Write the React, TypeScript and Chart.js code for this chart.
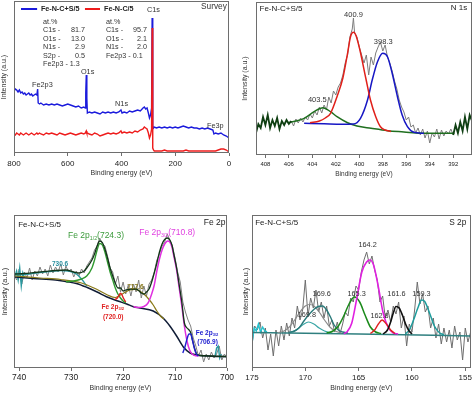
import React, { useEffect, useRef } from "react";
import { Chart, registerables } from "chart.js";

Chart.register(...registerables);

type Pair = [number, number];
const FONT = '"Liberation Sans", Arial, Helvetica, sans-serif';

// ---------------- Survey ----------------
const surveyEnergy = [800,795,790,785,780,775,770,765,760,755,750,745,740,735,730,725,720,715,
  712,710,705,700,
  690,680,670,660,650,640,630,620,610,600,590,580,570,560,550,540,
  535,533,531,529,527,
  520,510,500,490,480,470,460,450,440,430,420,410,
  402,398,
  390,380,370,360,350,340,330,320,
  315,310,305,300,296,292,288,286,284.5,283,281,278,
  270,260,250,240,230,220,210,200,190,180,170,160,150,140,130,120,110,100,90,80,70,60,
  56,
  50,40,30,20,10,0];
const surveyBlue = [62,64,63,61,63,60,61,59,60,58,59,60,58,59,57,58,59,58,
  64,50,49,50,
  48,49,48,49,48,49,48,47,48,49,48,47,46,47,45,46,
  45,60,78,55,40,
  41,40,41,40,39,41,40,41,40,41,40,41,
  43,40,
  41,40,42,41,42,43,42,45,
  46,44,45,40,35,38,45,135,80,27,25,26,
  25,26,25,26,25,26,25,26,25,26,27,26,25,26,25,25,24,25,24,25,24,23,
  19,
  20,19,20,18,17,15];
const surveyRed = [19,18,20,19,18,20,19,18,19,20,19,18,19,20,19,18,19,20,
  19,19,20,19,
  18,20,19,20,19,18,20,19,18,19,20,19,18,19,20,19,
  20,21,22,20,20,
  19,18,20,19,17,18,19,20,19,20,19,20,
  22,20,
  21,20,21,20,22,21,23,24,
  26,25,24,20,15,18,24,125,60,5,3,2,
  2,2,2,3,2,2,2,2,2,2,2,3,2,2,2,2,2,2,2,2,2,2,
  2,
  2,3,4,4,3,1];
const surveyElementsA = ["C1s -", "O1s -", "N1s -", "S2p -"];
const surveyAtomicA = ["81.7", "13.0", "2.9", "0.5"];
const surveyFeA = "Fe2p3 - 1.3";
const surveyElementsB = ["C1s -", "O1s -", "N1s -"];
const surveyAtomicB = ["95.7", "2.1", "2.0"];
const surveyFeB = "Fe2p3 - 0.1";

// ---------------- N 1s ----------------
const n1sEdgeLeft: Pair[] = [[408.8,22],[408.6,31],[408.4,27],[408.2,38],[408.0,30],[407.8,40],[407.6,27],[407.4,35],[407.2,29],[407.0,37],[406.8,26],[406.6,34],[406.4,30],[406.2,35],[406.0,31],[405.8,34]];
const n1sRaw: Pair[] = [[405.8,34],[405.6,29],[405.4,36],[405.2,32],[405.0,37],[404.8,33],[404.6,38],[404.4,35],[404.2,41],[404.0,37],[403.8,44],[403.6,40],[403.4,48],[403.2,42],[403.0,50],[402.8,45],[402.6,58],[402.4,52],[402.2,64],[402.0,60],[401.8,68],[401.6,72],[401.4,80],[401.2,92],[401.0,100],[400.8,118],[400.6,126],[400.5,137],[400.4,122],[400.2,118],[400.0,108],[399.8,100],[399.6,92],[399.4,100],[399.2,80],[399.0,98],[398.8,90],[398.6,102],[398.4,108],[398.2,113],[398.0,104],[397.8,110],[397.6,98],[397.4,92],[397.2,84],[397.0,74],[396.8,66],[396.6,55],[396.4,48],[396.2,43],[396.0,35],[395.8,38],[395.6,28],[395.4,30],[395.2,22],[395.0,27],[394.8,20],[394.6,26],[394.4,17],[394.2,24],[394.0,12],[393.8,22],[393.6,18],[393.4,26],[393.2,16],[393.0,25],[392.8,19],[392.6,24],[392.4,21],[392.2,26],[392.0,20]];
const n1sEdgeRight: Pair[] = [[392.0,20],[391.8,30],[391.6,22],[391.4,33],[391.2,24],[391.0,38],[390.8,26],[390.6,40],[390.4,34]];
const n1sRed: Pair[] = [[404.2,32.3],[403.4,34],[402.9,37],[402.45,41.7],[401.9,58.3],[401.4,77],[401.0,101.7],[400.75,118.3],[400.5,122.7],[400.3,120],[399.95,105],[399.45,77],[399.05,55],[398.6,38.3],[398.2,28.3],[397.8,25],[397.3,23.5]];
const n1sBlue: Pair[] = [[404.7,31.7],[403.0,31.2],[401.5,30.8],[400.5,31],[399.9,36.7],[399.3,55],[398.9,75],[398.45,93.3],[398.0,101.7],[397.6,98.3],[397.2,81.7],[396.75,58.3],[396.35,40],[395.9,28.3],[395.35,22.7],[394.5,21.7]];
const n1sGreen: Pair[] = [[406.1,32.3],[405.4,34],[404.7,36.7],[403.85,43.3],[403.1,47.3],[402.45,43.3],[401.9,38.3],[401.0,32.3],[400.2,29],[399.0,26.7],[397.6,24.3],[396.2,23],[394.8,21.7],[391.9,21.7]];

// ---------------- Fe 2p ----------------
const fe2pRaw: Pair[] = [[741,94],[740.5,88],[740,99],[739.5,84],[739,96],[738.5,90],[738,100],[737.5,88],[737,97],[736.5,92],[736,101],[735.5,94],[735,99],[734.5,92],[734,103],[733.5,95],[733,101],[732.5,96],[732,104],[731.5,93],[731,102],[730.5,96],[730,99],[729.5,91],[729,97],[728.5,92],[728,99],[727.5,95],[727,102],[726.5,106],[726,110],[725.5,118],[725,122],[724.5,130],[724,124],[723.5,122],[723,112],[722.5,100],[722,96],[721.5,84],[721,92],[720.5,76],[720,86],[719.5,74],[719,83],[718.5,72],[718,84],[717.5,76],[717,88],[716.5,70],[716,82],[715.5,72],[715,84],[714.5,88],[714,96],[713.5,108],[713,114],[712.5,122],[712,126],[711.5,134],[711,128],[710.5,122],[710,110],[709.5,96],[709,86],[708.5,66],[708,56],[707.5,48],[707,42],[706.5,30],[706,22],[705.5,12],[705,18],[704.5,6],[704,14],[703.5,8],[703,16],[702.5,10],[702,14],[701.5,22],[701,8],[700.5,14],[700,10]];
const fe2pEdgeLeft: Pair[] = [[740.8,92],[740.5,97],[740.2,88],[739.9,100],[739.6,82],[739.3,95],[739.0,90]];
const fe2pEdgeRight: Pair[] = [[702.3,12],[702.0,20],[701.7,22],[701.4,10],[701.1,14]];
const fe2pBackground: Pair[] = [[740.8,91],[737.3,89.5],[733,88],[730.9,86.3],[729,84.5],[727,80.7],[725,76],[723.2,71.3],[721,67],[719.3,64],[718,61.3],[716.8,60],[714.2,57],[712.3,50],[711,42],[709.7,32],[708.4,21],[707.1,15],[705.2,12.5],[703,11.8],[700,11.3]];
const fe2pEnvelope: Pair[] = [[740.8,94],[739,94.5],[737,95.5],[735,96.5],[733,97.5],[731,98],[729.5,96],[728.5,95],[727.5,97],[727,100],[726,108],[725.5,114],[725,122],[724.5,127],[724,125.5],[723.5,119],[723,110],[722.5,100],[722,92],[721.5,85],[721,80],[720.5,80],[720,77],[719.5,78],[719,78.5],[718.5,79],[718,79],[717.5,79],[717,77.5],[716.5,75],[716,74],[715.5,76],[715,79],[714.5,86],[714,95],[713.5,105],[713,116],[712.5,124],[712,128.5],[711.5,130],[711,128],[710.6,123],[710.2,113],[709.7,100],[709.2,83],[708.7,66],[708.2,45],[707.7,40],[707.3,38],[707,35.5],[706.6,27],[706.2,19],[705.8,13.5],[705.2,12.5],[703,12],[700,11.5]];
const fe2pTeal: Pair[] = [[740.8,93],[738,94],[736,95.5],[734,96.5],[732,97.3],[730.5,97],[729,94],[728,89],[727,82]];
const fe2pGreen: Pair[] = [[731,86.3],[729.5,87],[728,89],[727,92],[726,100],[725.5,108],[725,118],[724.5,124.5],[724,123],[723.5,116],[723,106],[722.5,96],[722,88],[721.5,80],[721,74],[720.5,70],[720,67],[719.5,65]];
const fe2pRed: Pair[] = [[721.6,68.5],[721.1,70],[720.8,72.5],[720.5,74.7],[720.2,73],[719.9,69.5],[719.5,66]];
const fe2pOlive: Pair[] = [[740.8,92],[736,90],[732,88.5],[728,85],[725,78.5],[723,73],[721.5,70.5],[720.5,73],[719.5,76],[718.7,78],[717.8,78.5],[717,77.5],[716,74],[715,68.5],[714.2,63],[713.5,57],[712.8,52],[712.2,49]];
const fe2pMagenta: Pair[] = [[718,61.5],[717,60.5],[716,61.5],[715.2,65],[714.5,74],[714,83],[713.5,97],[713,109],[712.5,118],[712,124],[711.4,127],[711,126],[710.6,121],[710.2,111],[709.7,98],[709.2,80],[708.7,62],[708.2,42],[707.7,27],[707.2,18],[706.6,13.5],[706,12.2],[705.5,12]];
const fe2pBlue: Pair[] = [[708.5,15],[708.1,21],[707.7,29],[707.3,34],[707.0,34],[706.7,29],[706.3,20],[705.9,14],[705.5,12]];

// ---------------- S 2p ----------------
const s2pRaw: Pair[] = [[175,24],[174.75,42],[174.5,38],[174.25,46],[174,30],[173.75,40],[173.5,18],[173.25,34],[173,12],[172.75,38],[172.5,22],[172.25,42],[172,28],[171.75,45],[171.5,32],[171.25,50],[171,40],[170.75,62],[170.5,48],[170.25,58],[170,88],[169.75,52],[169.5,70],[169.25,60],[169,78],[168.75,56],[168.5,66],[168.25,50],[168,62],[167.75,42],[167.5,48],[167.25,36],[167,46],[166.75,34],[166.5,44],[166.25,56],[166,52],[165.75,70],[165.5,66],[165.25,82],[165,78],[164.75,96],[164.5,108],[164.25,116],[164,104],[163.75,112],[163.5,98],[163.25,88],[163,66],[162.75,72],[162.5,50],[162.25,58],[162,46],[161.75,62],[161.5,54],[161.25,66],[161,40],[160.75,52],[160.5,22],[160.25,44],[160,36],[159.75,58],[159.5,86],[159.25,64],[159,74],[158.75,56],[158.5,62],[158.25,40],[158,50],[157.75,30],[157.5,44],[157.25,24],[157,40],[156.75,26],[156.5,38],[156.25,20],[156,42],[155.75,28],[155.5,36],[155.25,8],[155,40],[154.75,26],[154.5,36]];
const s2pEdge: Pair[] = [[175,24],[174.8,40],[174.6,37],[174.4,44],[174.2,36],[174.0,41],[173.8,37],[173.6,36]];
const s2pBaseline: Pair[] = [[175,35.5],[165,34],[154.5,32]];
const s2pGray: Pair[] = [[172.6,35.3],[172,37],[171.5,41],[171,48],[170.5,56],[170,62],[169.6,63.5],[169.2,62],[168.7,56],[168.2,48],[167.7,41],[167.2,37],[166.6,35]];
const s2pTeal: Pair[] = [[171.5,35.8],[171.1,36.5],[170.6,40],[170.2,46],[169.7,53],[169.2,58.5],[168.8,61.5],[168.4,62],[168.0,58],[167.6,50],[167.3,43],[166.9,38],[166.5,36],[166,35]];
const s2pSmall: Pair[] = [[171.4,35.5],[170.8,38.5],[170.2,43.5],[169.7,46],[169.2,44],[168.7,40],[168.2,37],[167.6,35.2]];
const s2pGreen: Pair[] = [[168,35],[167.4,37],[166.9,42],[166.4,52],[165.9,64],[165.4,71],[164.9,66],[164.4,53],[163.9,41],[163.4,36],[162.9,34.5]];
const s2pMagenta: Pair[] = [[166.4,34.5],[166.1,36],[165.65,44.7],[165.2,68],[164.7,96],[164.25,106],[163.95,108],[163.6,103],[163.15,81],[162.7,55],[162.2,40],[161.75,35],[161.3,34]];
const s2pRed: Pair[] = [[163.9,34.5],[163.5,38],[163.15,44],[162.8,48],[162.4,44],[162.0,38],[161.6,34.5]];
const s2pBlack: Pair[] = [[162.7,34],[162.3,38],[162.0,46],[161.75,55],[161.5,61.5],[161.2,60],[160.9,53],[160.6,44],[160.3,37.5],[160.0,34]];
const s2pCyan: Pair[] = [[160.6,34],[160.2,39],[159.85,48],[159.45,60],[159.1,68],[158.8,66.5],[158.35,55],[157.9,42],[157.4,35],[157,33.5]];

// ---------------- helpers ----------------
type Part = { t: string; sub?: boolean };
type Note = { parts: Part[]; x: number; y: number; color: string; size: number; bold?: boolean; align: "left" | "center" | "right" };
type Key = { x1: number; x2: number; y: number; color: string };

const T = (t: string): Part[] => [{ t }];
const note = (t: string | Part[], x: number, y: number, size: number, align: Note["align"] = "left", color = "#333", bold = false): Note =>
  ({ parts: typeof t === "string" ? T(t) : t, x, y, size, align, color, bold });

function line(pairs: Pair[], color: string, width: number, smooth = true) {
  return {
    data: pairs.map(([x, y]) => ({ x, y })),
    borderColor: color,
    borderWidth: width,
    pointRadius: 0,
    fill: false,
    tension: 0,
    cubicInterpolationMode: smooth ? "monotone" : "default",
  };
}

function notesPlugin(notes: Note[], keys: Key[]) {
  return {
    id: "notes",
    afterDraw(chart: any) {
      const { ctx } = chart;
      const xs = chart.scales.x;
      const ys = chart.scales.y;
      ctx.save();
      for (const k of keys) {
        const y = ys.getPixelForValue(k.y);
        ctx.strokeStyle = k.color;
        ctx.lineWidth = 2;
        ctx.beginPath();
        ctx.moveTo(xs.getPixelForValue(k.x1), y);
        ctx.lineTo(xs.getPixelForValue(k.x2), y);
        ctx.stroke();
      }
      for (const n of notes) {
        const w = n.bold ? "bold " : "";
        const fontOf = (p: Part) => `${w}${p.sub ? n.size * 0.62 : n.size}px ${FONT}`;
        const widths = n.parts.map((p) => {
          ctx.font = fontOf(p);
          return ctx.measureText(p.t).width;
        });
        const total = widths.reduce((a, b) => a + b, 0);
        let x = xs.getPixelForValue(n.x);
        if (n.align === "center") x -= total / 2;
        else if (n.align === "right") x -= total;
        const y = ys.getPixelForValue(n.y);
        ctx.fillStyle = n.color;
        ctx.textBaseline = "middle";
        ctx.textAlign = "left";
        n.parts.forEach((p, i) => {
          ctx.font = fontOf(p);
          ctx.fillText(p.t, x, p.sub ? y + n.size * 0.3 : y);
          x += widths[i];
        });
      }
      ctx.restore();
    },
  };
}

const framePlugin = {
  id: "frame",
  afterDatasetsDraw(chart: any) {
    const { ctx, chartArea: a } = chart;
    ctx.save();
    ctx.strokeStyle = "#6e6e6e";
    ctx.lineWidth = 1;
    ctx.strokeRect(Math.round(a.left) + 0.5, Math.round(a.top) + 0.5, Math.round(a.right - a.left) - 1, Math.round(a.bottom - a.top) - 1);
    ctx.restore();
  },
};

type PanelCfg = {
  datasets: any[];
  xMin: number; xMax: number; step: number; yMax: number;
  padding: { left: number; top: number; right: number; bottom: number };
  yWidth: number; xHeight: number;
  tickSize: number; tickPad: number; titleSize: number; yTitleSize: number; yTitlePad: number;
  notes: Note[]; keys: Key[];
};

function Panel({ cfg, left, top, width, height }: { cfg: PanelCfg; left: number; top: number; width: number; height: number }) {
  const ref = useRef<HTMLCanvasElement | null>(null);
  useEffect(() => {
    if (!ref.current) return;
    const chart = new Chart(ref.current, {
      type: "line",
      data: { datasets: cfg.datasets },
      options: {
        responsive: false,
        maintainAspectRatio: false,
        animation: false,
        devicePixelRatio: 1,
        events: [],
        layout: { padding: cfg.padding },
        plugins: { legend: { display: false }, tooltip: { enabled: false } },
        scales: {
          x: {
            type: "linear",
            reverse: true,
            min: cfg.xMin,
            max: cfg.xMax,
            ticks: { stepSize: cfg.step, includeBounds: false, autoSkip: false, maxRotation: 0, padding: cfg.tickPad, color: "#222", font: { family: FONT, size: cfg.tickSize } },
            grid: { drawOnChartArea: false, drawTicks: true, tickLength: 3, color: "#6e6e6e" },
            border: { display: false },
            title: { display: true, text: "Binding energy (eV)", color: "#333", padding: { top: 0, bottom: 0 }, font: { family: FONT, size: cfg.titleSize } },
            afterFit: (s: any) => { s.height = cfg.xHeight; },
          },
          y: {
            type: "linear",
            min: 0,
            max: cfg.yMax,
            ticks: { display: false },
            grid: { display: false },
            border: { display: false },
            title: { display: true, text: "Intensity (a.u.)", color: "#333", padding: { top: cfg.yTitlePad, bottom: 0 }, font: { family: FONT, size: cfg.yTitleSize } },
            afterFit: (s: any) => { s.width = cfg.yWidth; },
          },
        },
      } as any,
      plugins: [framePlugin, notesPlugin(cfg.notes, cfg.keys)],
    });
    return () => chart.destroy();
  }, [cfg]);
  return <canvas ref={ref} width={width} height={height} style={{ position: "absolute", left, top, width, height, display: "block" }} />;
}

// ---------------- panel configs ----------------
const surveyRows = [131, 122.5, 114, 105.5, 97, 88.5];
const surveyNotes: Note[] = [
  note("Fe-N-C+S/5", 700, 144, 7.2, "left", "#222", true),
  note("Fe-N-C/5", 465, 144, 7.2, "left", "#222", true),
  note("C1s", 305, 143, 7.3),
  note("Survey", 8, 146, 8.3, "right"),
  note("Fe2p3", 733, 68, 7.3),
  note("O1s", 551, 81, 7.3),
  note("N1s", 424, 49, 7.3),
  note("Fe3p", 82, 27, 7.3),
  note("at.%", 692, surveyRows[0], 7.2),
  note("at.%", 458, surveyRows[0], 7.2),
  ...surveyElementsA.map((e, i) => note(e, 692, surveyRows[i + 1], 7.2)),
  ...surveyAtomicA.map((v, i) => note(v, 536, surveyRows[i + 1], 7.2, "right")),
  note(surveyFeA, 692, surveyRows[5], 7.2),
  ...surveyElementsB.map((e, i) => note(e, 458, surveyRows[i + 1], 7.2)),
  ...surveyAtomicB.map((v, i) => note(v, 305, surveyRows[i + 1], 7.2, "right")),
  note(surveyFeB, 458, surveyRows[4], 7.2),
];
const surveyKeys: Key[] = [
  { x1: 774, x2: 714, y: 144, color: "#1b1bdc" },
  { x1: 536, x2: 480, y: 144, color: "#ee1c1c" },
];

const surveyCfg: PanelCfg = {
  datasets: [
    line(surveyEnergy.map((e, i) => [e, surveyRed[i]] as Pair), "#ee1c1c", 1.4, false),
    line(surveyEnergy.map((e, i) => [e, surveyBlue[i]] as Pair), "#1b1bdc", 1.4, false),
  ],
  xMin: 0, xMax: 800, step: 200, yMax: 152,
  padding: { left: 0, top: 1, right: 8, bottom: 0 },
  yWidth: 14, xHeight: 24, tickSize: 8, tickPad: 3, titleSize: 7, yTitleSize: 7, yTitlePad: 0,
  notes: surveyNotes, keys: surveyKeys,
};

const n1sCfg: PanelCfg = {
  datasets: [
    line(n1sEdgeLeft, "#0f3f12", 1.8, false),
    line(n1sEdgeRight, "#0f3f12", 1.8, false),
    line(n1sRed, "#e0201a", 1.5),
    line(n1sBlue, "#1717c4", 1.5),
    line(n1sGreen, "#1f6f1f", 1.5),
    line(n1sRaw, "#7d7d7d", 1, false),
  ],
  xMin: 390.4, xMax: 408.8, step: 2, yMax: 153,
  padding: { left: 0, top: 2, right: 2, bottom: 0 },
  yWidth: 19, xHeight: 23, tickSize: 6, tickPad: 3, titleSize: 6.5, yTitleSize: 7, yTitlePad: 4,
  notes: [
    note("Fe-N-C+S/5", 408.5, 146, 8, "left", "#222"),
    note("N 1s", 390.8, 147, 8, "right", "#222"),
    note("400.9", 400.5, 140, 7.5, "center"),
    note("398.3", 397.96, 113, 7.5, "center"),
    note("403.5", 403.58, 55, 7.5, "center"),
  ],
  keys: [],
};

const fe2pCfg: PanelCfg = {
  datasets: [
    line(fe2pRed, "#e02020", 1.4),
    line(fe2pBlue, "#2020d0", 1.4),
    line(fe2pEnvelope, "#123418", 1.3),
    line(fe2pMagenta, "#e030e0", 1.5),
    line(fe2pGreen, "#2f9a2f", 1.4),
    line(fe2pOlive, "#8a7a18", 1.2),
    line(fe2pTeal, "#2a9aa0", 1.3),
    line(fe2pBackground, "#101c36", 1.5),
    line(fe2pEdgeLeft, "#2a9aa0", 1.4, false),
    line(fe2pEdgeRight, "#2a9aa0", 1.4, false),
    line(fe2pRaw, "#808080", 1, false),
  ],
  xMin: 700, xMax: 741, step: 10, yMax: 153,
  padding: { left: 0, top: 15, right: 10, bottom: 0 },
  yWidth: 14, xHeight: 24, tickSize: 8.5, tickPad: 2, titleSize: 7, yTitleSize: 7.5, yTitlePad: 0,
  notes: [
    note("Fe-N-C+S/5", 740.2, 143, 8, "left", "#222"),
    note("Fe 2p", 700.3, 145, 8.5, "right", "#222"),
    note([{ t: "Fe 2p" }, { t: "1/2", sub: true }, { t: "(724.3)" }], 730.6, 132, 8.5, "left", "#3a9a3a"),
    note([{ t: "Fe 2p" }, { t: "3/2", sub: true }, { t: "(710.8)" }], 716.9, 135, 8.5, "left", "#e040e0"),
    note("730.6", 733.7, 104, 6.5, "left", "#2a8f9f", true),
    note("717.6", 719.2, 81, 6.5, "left", "#857518", true),
    note([{ t: "Fe 2p" }, { t: "3/2", sub: true }], 722.0, 61, 6.5, "center", "#e02020", true),
    note("(720.0)", 721.9, 51, 6.5, "center", "#e02020", true),
    note([{ t: "Fe 2p" }, { t: "3/2", sub: true }], 703.85, 35, 6.5, "center", "#2020d0", true),
    note("(706.9)", 703.75, 26, 6.5, "center", "#2020d0", true),
  ],
  keys: [],
};

const s2pCfg: PanelCfg = {
  datasets: [
    line(s2pBlack, "#111111", 1.6),
    line(s2pRed, "#e02020", 1.4),
    line(s2pMagenta, "#e020e0", 1.6),
    line(s2pGreen, "#1a8a1a", 1.5),
    line(s2pCyan, "#1f9c9c", 1.5),
    line(s2pTeal, "#2a7a7a", 1.4),
    line(s2pSmall, "#3aa6a6", 1.2),
    line(s2pGray, "#8a8a8a", 1.2),
    line(s2pBaseline, "#2f7f7f", 1.4),
    line(s2pEdge, "#22c4d0", 1.4, false),
    line(s2pRaw, "#6e6e6e", 1, false),
  ],
  xMin: 154.5, xMax: 175, step: 5, yMax: 153,
  padding: { left: 0, top: 15, right: 2, bottom: 0 },
  yWidth: 15, xHeight: 24, tickSize: 8, tickPad: 2, titleSize: 7, yTitleSize: 7.5, yTitlePad: 4,
  notes: [
    note("Fe-N-C+S/5", 174.7, 145, 8, "left", "#222"),
    note("S 2p", 154.9, 145, 8.3, "right", "#222"),
    note("164.2", 164.16, 123, 7.3, "center"),
    note("169.6", 168.46, 74, 7.3, "center"),
    note("169.8", 169.86, 53, 7.3, "center"),
    note("165.3", 165.19, 74, 7.3, "center"),
    note("162.8", 163.04, 52, 7.3, "center"),
    note("161.6", 161.45, 74, 7.3, "center"),
    note("159.3", 159.11, 74, 7.3, "center"),
  ],
  keys: [],
};

export default function App() {
  return (
    <div style={{ position: "absolute", left: 0, top: 0, width: 474, height: 393, background: "#fff", overflow: "hidden" }}>
      <Panel cfg={surveyCfg} left={0} top={0} width={237} height={177} />
      <Panel cfg={n1sCfg} left={237} top={0} width={237} height={178} />
      <Panel cfg={fe2pCfg} left={0} top={200} width={237} height={192} />
      <Panel cfg={s2pCfg} left={237} top={200} width={237} height={192} />
    </div>
  );
}
